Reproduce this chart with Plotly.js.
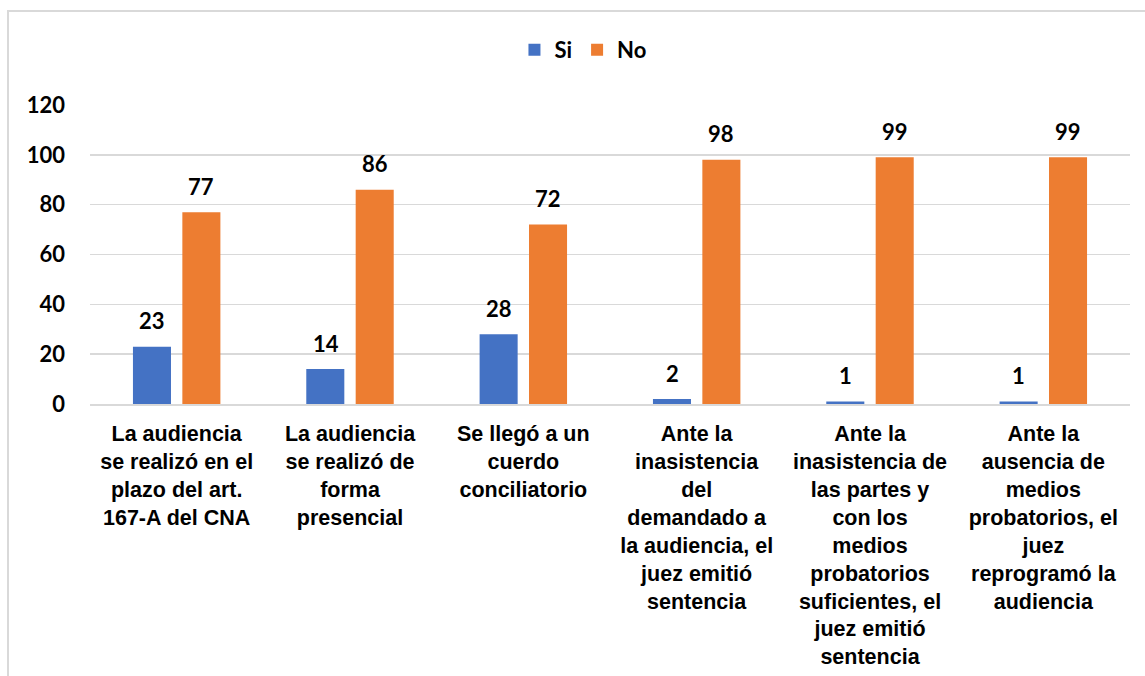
<!DOCTYPE html>
<html>
<head>
<meta charset="utf-8">
<script src="https://cdn.plot.ly/plotly-3.0.1.min.js"></script>
<style>
  html, body { margin:0; padding:0; background:#ffffff; }
  #frame { position:absolute; left:7px; top:10px; width:1200px; height:720px; border:2px solid #d9d9d9; box-sizing:border-box; }
  #chart { position:absolute; left:0; top:0; width:1145px; height:676px; }
</style>
</head>
<body>
<div id="frame"></div>
<div id="chart"></div>
<script>
const categories = [
  "La audiencia<br>se realizó en el<br>plazo del art.<br>167-A del CNA",
  "La audiencia<br>se realizó de<br>forma<br>presencial",
  "Se llegó a un<br>cuerdo<br>conciliatorio",
  "Ante la<br>inasistencia<br>del<br>demandado a<br>la audiencia, el<br>juez emitió<br>sentencia",
  "Ante la<br>inasistencia de<br>las partes y<br>con los<br>medios<br>probatorios<br>suficientes, el<br>juez emitió<br>sentencia",
  "Ante la<br>ausencia de<br>medios<br>probatorios, el<br>juez<br>reprogramó la<br>audiencia"
];
const siValues = [23, 14, 28, 2, 1, 1];
const noValues = [77, 86, 72, 98, 99, 99];
const seriesNames = ["Si", "No"];
const yTicks = [0, 20, 40, 60, 80, 100, 120];

const labelFont = {family: "Lato, 'Open Sans', sans-serif", size: 22, color: "#000000", weight: "bold"};

const traces = [
  {type: "bar", name: seriesNames[0], x: categories, y: siValues, marker: {color: "#4472C4"}},
  {type: "bar", name: seriesNames[1], x: categories, y: noValues, marker: {color: "#ED7D31"}}
];

const annotations = [];
categories.forEach((c, i) => {
  annotations.push({x: c, y: siValues[i], xref: "x", yref: "y", text: String(siValues[i]),
    showarrow: false, xshift: -24.5, yshift: 26, yanchor: "middle", font: labelFont});
  annotations.push({x: c, y: noValues[i], xref: "x", yref: "y", text: String(noValues[i]),
    showarrow: false, xshift: 24.5, yshift: 26, yanchor: "middle", font: labelFont});
});

const layout = {
  width: 1145, height: 676,
  margin: {l: 90, r: 15, t: 105, b: 272},
  paper_bgcolor: "rgba(0,0,0,0)",
  plot_bgcolor: "rgba(0,0,0,0)",
  barmode: "group",
  bargap: 0.43,
  bargroupgap: 0.23,
  showlegend: true,
  legend: {orientation: "h", x: 0.474, xanchor: "center", y: 1.184, yanchor: "middle",
    font: labelFont, itemwidth: 30, traceorder: "normal"},
  xaxis: {tickfont: {family: "'Liberation Sans', Arial, sans-serif", size: 21.5, color: "#000000", weight: "bold"},
    showline: true, linecolor: "#d9d9d9", linewidth: 2, ticks: "", showgrid: false, fixedrange: true,
    ticklabelstandoff: 9},
  yaxis: {range: [0, 120], tickvals: yTicks, showgrid: true, gridcolor: "#d9d9d9", gridwidth: 1.5,
    zeroline: false, showline: false, ticks: "", ticklabelstandoff: 24,
    tickfont: labelFont, fixedrange: true},
  annotations: annotations
};

Plotly.newPlot("chart", traces, layout, {displayModeBar: false, staticPlot: true});
</script>
</body>
</html>
